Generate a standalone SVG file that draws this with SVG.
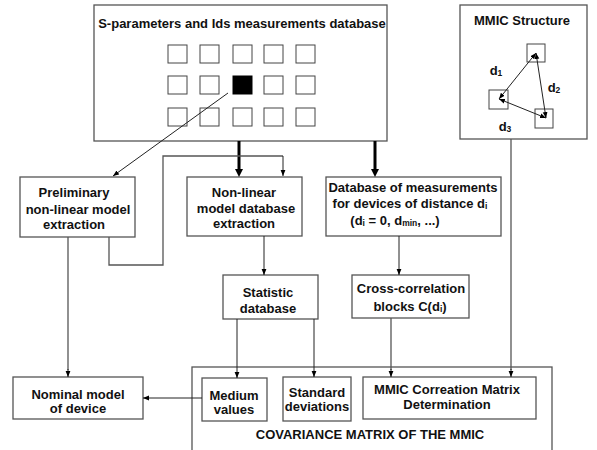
<svg xmlns="http://www.w3.org/2000/svg" width="597" height="450" viewBox="0 0 597 450">
<defs>
<style>
.box{fill:#fff;stroke:#555;stroke-width:1.3}
.sq{fill:#fff;stroke:#444;stroke-width:1}
text{font-family:"Liberation Sans",Arial,sans-serif;font-weight:bold;font-size:13px;fill:#111;text-anchor:middle}
.sub{font-size:8.5px}
.ln{fill:none;stroke:#555;stroke-width:1.3}
.ar{fill:none;stroke:#222;stroke-width:1}
.thick{fill:none;stroke:#000;stroke-width:3}
</style>
<marker id="ah" viewBox="0 0 10 10" refX="10" refY="5" markerWidth="6" markerHeight="6" orient="auto-start-reverse" markerUnits="userSpaceOnUse">
<path d="M0,1 L10,5 L0,9 z" fill="#000"/>
</marker>
</defs>
<rect width="597" height="450" fill="#fff"/>

<g id="db-main">
<rect class="box" x="94" y="5" width="293" height="136"/>
<text x="242" y="28">S-parameters and Ids measurements database</text>
<rect class="sq" x="168" y="45" width="19" height="18"/>
<rect class="sq" x="200" y="45" width="19" height="18"/>
<rect class="sq" x="233" y="45" width="19" height="18"/>
<rect class="sq" x="264" y="45" width="19" height="18"/>
<rect class="sq" x="296" y="45" width="19" height="18"/>
<rect class="sq" x="168" y="76" width="19" height="18"/>
<rect class="sq" x="200" y="76" width="19" height="18"/>
<rect x="233" y="76" width="19" height="18" fill="#000" stroke="#000"/>
<rect class="sq" x="264" y="76" width="19" height="18"/>
<rect class="sq" x="296" y="76" width="19" height="18"/>
<rect class="sq" x="168" y="108" width="19" height="18"/>
<rect class="sq" x="200" y="108" width="19" height="18"/>
<rect class="sq" x="233" y="108" width="19" height="18"/>
<rect class="sq" x="264" y="108" width="19" height="18"/>
<rect class="sq" x="296" y="108" width="19" height="18"/>
</g>

<g id="mmic-structure">
<rect class="box" x="460" y="5" width="127" height="134"/>
<text x="522" y="25">MMIC Structure</text>
<rect class="sq" x="527" y="44" width="18" height="18"/>
<rect class="sq" x="489" y="90" width="19" height="19"/>
<rect class="sq" x="535" y="109" width="18" height="19"/>
<line class="ar" x1="536" y1="53" x2="499" y2="99" marker-start="url(#ah)" marker-end="url(#ah)"/>
<line class="ar" x1="536" y1="53" x2="546" y2="118" marker-start="url(#ah)" marker-end="url(#ah)"/>
<line class="ar" x1="499" y1="99" x2="546" y2="118" marker-start="url(#ah)" marker-end="url(#ah)"/>
<text x="496" y="75">d<tspan class="sub" dy="1">1</tspan></text>
<text x="554" y="92">d<tspan class="sub" dy="1">2</tspan></text>
<text x="505" y="131">d<tspan class="sub" dy="1">3</tspan></text>
</g>

<g id="preliminary">
<rect class="box" x="20" y="177" width="115" height="60"/>
<text x="74" y="197">Preliminary</text>
<text x="78" y="214">non-linear model</text>
<text x="74" y="229">extraction</text>
</g>

<g id="nonlinear">
<rect class="box" x="187" y="177" width="115" height="59"/>
<text x="244" y="197">Non-linear</text>
<text x="246" y="213">model database</text>
<text x="244" y="228">extraction</text>
</g>

<g id="database-di">
<rect class="box" x="326" y="177" width="175" height="59"/>
<text x="413" y="192">Database of measurements</text>
<text x="410" y="208">for devices of distance d<tspan class="sub" dy="1">i</tspan></text>
<text x="395" y="225">(d<tspan class="sub" dy="1">i</tspan><tspan dy="-1"> = 0, d</tspan><tspan class="sub" dy="1">min</tspan><tspan dy="-1">, ...)</tspan></text>
</g>

<g id="statistic">
<rect class="box" x="223" y="275" width="95" height="44"/>
<text x="268" y="297">Statistic</text>
<text x="268" y="313">database</text>
</g>

<g id="cross-correlation">
<rect class="box" x="352" y="275" width="117" height="43"/>
<text x="411" y="293">Cross-correlation</text>
<text x="410" y="311">blocks C(d<tspan class="sub" dy="1">i</tspan><tspan dy="-1">)</tspan></text>
</g>

<g id="covariance">
<rect class="box" x="192" y="367" width="360" height="100"/>
<text x="370" y="439">COVARIANCE MATRIX OF THE MMIC</text>
</g>

<g id="nominal">
<rect class="box" x="13" y="377" width="130" height="42"/>
<text x="78" y="399">Nominal model</text>
<text x="78" y="413">of device</text>
</g>

<g id="medium">
<rect class="box" x="202" y="378" width="65" height="43"/>
<text x="234" y="400">Medium</text>
<text x="234" y="414">values</text>
</g>

<g id="standard">
<rect class="box" x="283" y="377" width="68" height="44"/>
<text x="317" y="397">Standard</text>
<text x="317" y="411">deviations</text>
</g>

<g id="mmic-correlation">
<rect class="box" x="363" y="377" width="173" height="42"/>
<text x="447" y="394">MMIC Correation Matrix</text>
<text x="447" y="409">Determination</text>
</g>

<g id="connectors">
<line class="ar" x1="228" y1="93" x2="113" y2="176" marker-end="url(#ah)"/>
<line class="thick" x1="239" y1="141" x2="239" y2="170"/>
<path d="M235,169 L239,177 L243,169 z" fill="#000"/>
<line class="thick" x1="375" y1="141" x2="375" y2="170"/>
<path d="M371,169 L375,177 L379,169 z" fill="#000"/>
<path class="ln" d="M109,237 V265 H163 V156 H283"/>
<line class="ar" x1="283" y1="156" x2="283" y2="176" marker-end="url(#ah)"/>
<line class="ln" x1="68" y1="237" x2="68" y2="370"/>
<line class="ar" x1="68" y1="369" x2="68" y2="377" marker-end="url(#ah)"/>
<line class="ar" x1="264" y1="236" x2="264" y2="275" marker-end="url(#ah)"/>
<line class="ar" x1="399" y1="236" x2="399" y2="275" marker-end="url(#ah)"/>
<line class="ar" x1="237" y1="319" x2="237" y2="378" marker-end="url(#ah)"/>
<line class="ar" x1="314" y1="319" x2="314" y2="377" marker-end="url(#ah)"/>
<line class="ln" x1="391" y1="318" x2="391" y2="370"/>
<line class="ar" x1="391" y1="369" x2="391" y2="377" marker-end="url(#ah)"/>
<line class="ln" x1="511" y1="139" x2="511" y2="370"/>
<line class="ar" x1="511" y1="369" x2="511" y2="377" marker-end="url(#ah)"/>
<line class="ar" x1="202" y1="398" x2="143" y2="398" marker-end="url(#ah)"/>
</g>
</svg>
